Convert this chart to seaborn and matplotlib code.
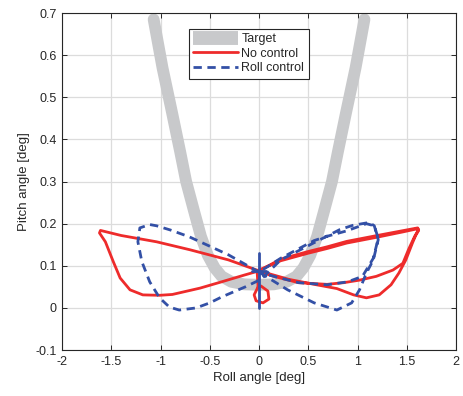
import numpy as np
import pandas as pd
import matplotlib
matplotlib.use("Agg")
import matplotlib.pyplot as plt
import seaborn as sns
from matplotlib.lines import Line2D

# ---------------- data ----------------
target_roll = [-1.07, -0.98, -0.88, -0.80, -0.74, -0.66, -0.59, -0.52, -0.45, -0.38, -0.28,
               -0.15, 0.0, 0.15, 0.28, 0.38, 0.45, 0.52, 0.59, 0.66, 0.74, 0.80, 0.88, 0.98, 1.07]
target_pitch = [0.685, 0.57, 0.46, 0.37, 0.30, 0.23, 0.17, 0.125, 0.095, 0.075, 0.062,
                0.056, 0.055, 0.056, 0.062, 0.075, 0.095, 0.125, 0.17, 0.23, 0.30, 0.37, 0.46, 0.57, 0.685]

# No control: figure-eight, two passes on the right lobe
nc_roll = [-0.02, 0.22, 0.50, 0.69, 0.89, 1.20, 1.45, 1.61, 1.62, 1.59, 1.557, 1.49, 1.42,
           1.34, 1.22, 1.09, 0.96, 0.79, 0.56, 0.30, 0.0, -0.31, -0.70, -1.04, -1.40, -1.61,
           -1.62, -1.56, -1.48, -1.41, -1.31, -1.18, -1.01, -0.88, -0.60, -0.38, -0.15, 0.0,
           0.22, 0.50, 0.69, 0.89, 1.20, 1.45, 1.61, 1.62, 1.58, 1.52, 1.46, 1.36, 1.19, 1.02,
           0.86, 0.69, 0.40, 0.15, -0.02]
nc_pitch = [0.088, 0.112, 0.130, 0.141, 0.154, 0.168, 0.180, 0.188, 0.184, 0.172, 0.154, 0.114,
            0.083, 0.055, 0.031, 0.024, 0.031, 0.046, 0.056, 0.068, 0.088, 0.114, 0.138, 0.157,
            0.172, 0.184, 0.178, 0.157, 0.110, 0.071, 0.043, 0.031, 0.030, 0.032, 0.047, 0.062,
            0.078, 0.088, 0.116, 0.134, 0.145, 0.158, 0.172, 0.183, 0.190, 0.186, 0.170, 0.140,
            0.106, 0.090, 0.075, 0.066, 0.060, 0.056, 0.060, 0.075, 0.088]

nc_loop_roll = [-0.02, -0.01, -0.05, -0.03, 0.04, 0.10, 0.09, 0.02, -0.01]
nc_loop_pitch = [0.088, 0.050, 0.031, 0.017, 0.012, 0.021, 0.040, 0.052, 0.050]

# Roll control: figure-eight
rc_roll = [0.0, -0.31, -0.71, -0.90, -1.04, -1.11, -1.21, -1.23, -1.19, -1.11, -1.01, -0.91,
           -0.81, -0.64, -0.50, -0.38, -0.14, 0.02, 0.22, 0.56, 0.82, 0.95, 1.12, 1.17, 1.21,
           1.16, 1.09, 1.02, 0.94, 0.79, 0.56, 0.29, 0.0,
           0.22, 0.56, 0.69, 0.89, 1.09, 1.17, 1.21, 1.16, 1.05, 0.90, 0.69, 0.40, 0.10, 0.0]
rc_pitch = [0.085, 0.126, 0.169, 0.185, 0.195, 0.198, 0.190, 0.157, 0.110, 0.062, 0.024, 0.002,
            -0.005, 0.000, 0.012, 0.026, 0.050, 0.068, 0.114, 0.155, 0.186, 0.196, 0.203, 0.195,
            0.162, 0.114, 0.083, 0.043, 0.012, -0.005, 0.012, 0.043, 0.085,
            0.118, 0.160, 0.170, 0.183, 0.200, 0.195, 0.165, 0.118, 0.075, 0.062, 0.055, 0.060,
            0.078, 0.085]

rc_stem_roll = [0.0, 0.0]
rc_stem_pitch = [0.0, 0.131]
rc_bar_roll = [-0.07, 0.07]
rc_bar_pitch = [0.088, 0.088]

xticks = [-2, -1.5, -1, -0.5, 0, 0.5, 1, 1.5, 2]
xticklabels = ["-2", "-1.5", "-1", "-0.5", "0", "0.5", "1", "1.5", "2"]
yticks = [-0.1, 0, 0.1, 0.2, 0.3, 0.4, 0.5, 0.6, 0.7]
yticklabels = ["-0.1", "0", "0.1", "0.2", "0.3", "0.4", "0.5", "0.6", "0.7"]

# ---------------- style ----------------
sns.set_theme(style="whitegrid")
plt.rcParams["font.family"] = ["Liberation Sans", "DejaVu Sans"]

C_TARGET = "#C8C9CB"
C_RED = "#EE2B2B"
C_BLUE = "#3350A6"

fig = plt.figure(figsize=(4.63, 3.96), dpi=100)
ax = fig.add_axes([0.134, 0.116, 0.851, 0.851])

def draw(x, y, **kw):
    df = pd.DataFrame({"x": x, "y": y})
    sns.lineplot(data=df, x="x", y="y", sort=False, estimator=None, ax=ax, **kw)

draw(target_roll, target_pitch, color=C_TARGET, lw=8.5, solid_capstyle="round",
     solid_joinstyle="round")
draw(nc_roll, nc_pitch, color=C_RED, lw=2.0)
draw(nc_loop_roll, nc_loop_pitch, color=C_RED, lw=2.0)
draw(rc_roll, rc_pitch, color=C_BLUE, lw=2.0, dashes=False, linestyle=(0, (3.0, 2.0)))
draw(rc_stem_roll, rc_stem_pitch, color=C_BLUE, lw=2.0)
draw(rc_bar_roll, rc_bar_pitch, color=C_BLUE, lw=2.0)

ax.set_xlim(-2, 2)
ax.set_ylim(-0.1, 0.7)
ax.set_xticks(xticks)
ax.set_xticklabels(xticklabels)
ax.set_yticks(yticks)
ax.set_yticklabels(yticklabels)
ax.set_xlabel("Roll angle [deg]", fontsize=9.5, color="#262626", labelpad=3)
ax.set_ylabel("Pitch angle [deg]", fontsize=9.5, color="#262626", labelpad=4)

ax.grid(True, color="#DCDCDC", lw=0.9, ls="-")
ax.set_axisbelow(True)
ax.set_facecolor("white")
for s in ax.spines.values():
    s.set_visible(True)
    s.set_color("#262626")
    s.set_linewidth(0.8)
ax.tick_params(axis="both", which="both", direction="in", length=3.5, width=0.7,
               colors="#262626", labelsize=9, top=True, right=True,
               bottom=True, left=True, pad=4)

handles = [
    Line2D([0], [0], color=C_TARGET, lw=10, solid_capstyle="butt"),
    Line2D([0], [0], color=C_RED, lw=2.0),
    Line2D([0], [0], color=C_BLUE, lw=2.0, linestyle=(0, (3.0, 2.0))),
]
leg = ax.legend(handles, ["Target", "No control", "Roll control"],
                loc="upper left", bbox_to_anchor=(0.322, 0.953),
                fontsize=9, frameon=True, fancybox=False, framealpha=1,
                edgecolor="#262626", handlelength=3.6, handletextpad=0.25,
                labelspacing=0.2, borderpad=0.35, borderaxespad=0.0)
leg.get_frame().set_linewidth(0.8)

fig.savefig("out.png", dpi=100)
